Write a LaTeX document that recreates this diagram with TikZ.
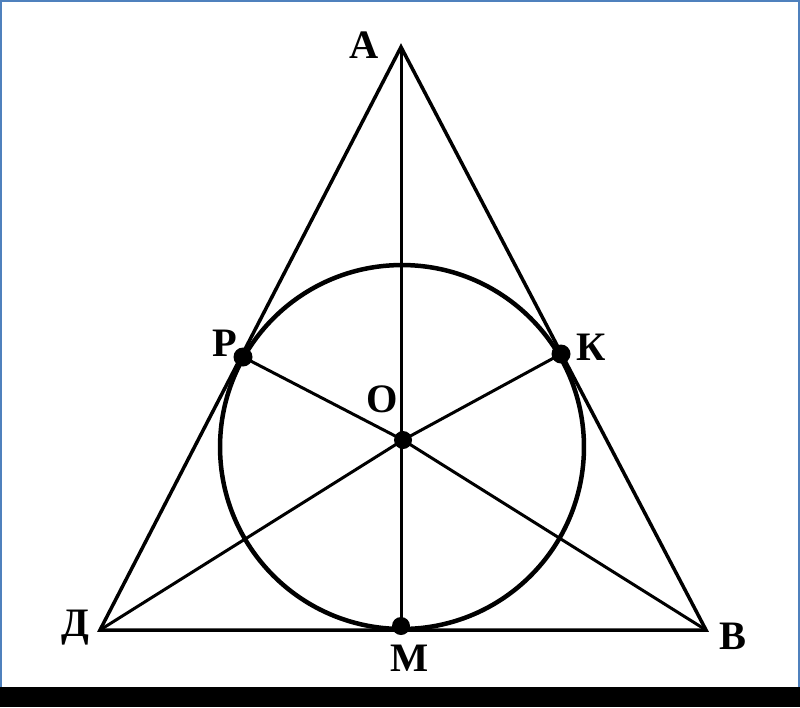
\documentclass[tikz,border=0pt]{standalone}
\usepackage{fontspec}
\setmainfont{Liberation Serif}
\definecolor{frameblue}{RGB}{79,129,189}

\begin{document}
\begin{tikzpicture}[x=0.02cm,y=-0.02cm]
\tikzset{lbl/.style={font=\fontsize{23}{27}\selectfont\bfseries,inner sep=0pt}}
\useasboundingbox (0,0) rectangle (800,707);
\fill[white] (0,0) rectangle (800,707);
\fill[black] (0,687) rectangle (800,707);
\draw[frameblue,line width=0.04cm] (1,687) -- (1,1) -- (799,1) -- (799,687);
% points
\coordinate (A) at (401,47);
\coordinate (D) at (100,630);
\coordinate (B) at (706,630);
\coordinate (M) at (401,626);
\coordinate (O) at (403,440);
\coordinate (P) at (243,357);
\coordinate (K) at (561,354);
\coordinate (I) at (402,447);
\draw[line width=0.07cm] (A) -- (D) -- (B) -- cycle;
\draw[line width=0.09cm] (I) circle[radius=3.64cm];
\draw[line width=0.06cm] (A) -- (M);
\draw[line width=0.06cm] (P) -- (O) -- (B);
\draw[line width=0.06cm] (K) -- (O) -- (D);
\fill (P) circle[radius=0.19cm];
\fill (K) circle[radius=0.19cm];
\fill (O) circle[radius=0.18cm];
\fill (M) circle[radius=0.18cm];
\node[lbl] (lA) at (364,45) {А};
\node[lbl] (lP) at (225,343) {Р};
\node[lbl] (lK) at (591,347) {К};
\node[lbl] (lO) at (382,399) {О};
\node[lbl] (lD) at (75,628) {Д};
\node[lbl] (lB) at (733,636) {В};
\node[lbl] (lM) at (410,658) {М};
\end{tikzpicture}
\end{document}
